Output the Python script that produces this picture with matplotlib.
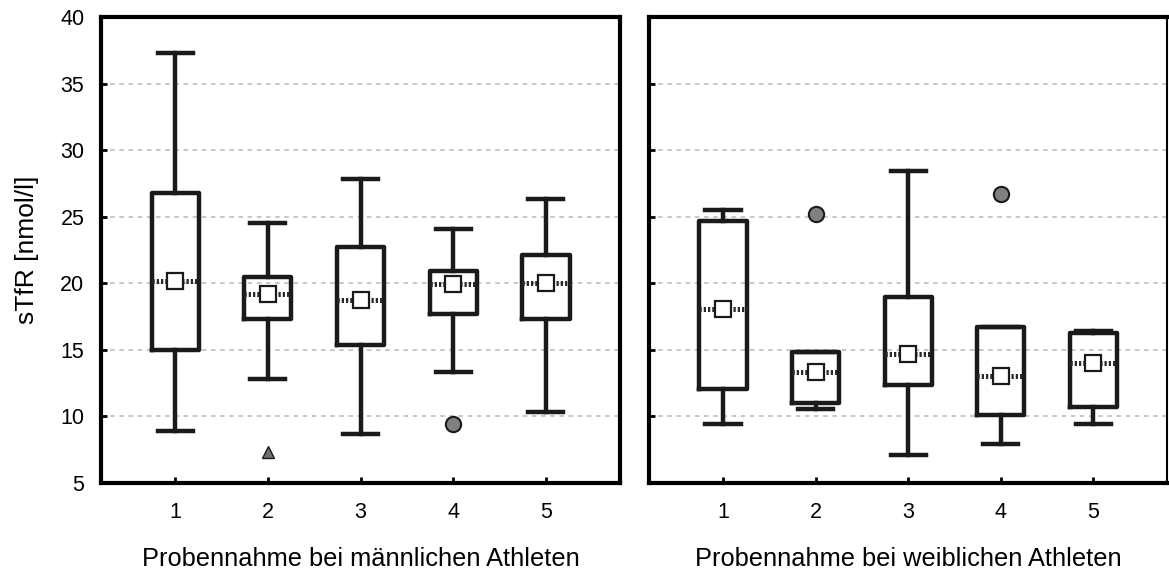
import matplotlib.pyplot as plt
import numpy as np

plt.rcParams['font.family'] = ['Liberation Sans', 'DejaVu Sans']

samples = [1, 2, 3, 4, 5]

# male athletes
m_whislo = [8.9, 12.8, 8.7, 13.3, 10.35]
m_q1 = [15.0, 17.3, 15.4, 17.7, 17.35]
m_med = [20.2, 19.2, 18.75, 19.95, 20.05]
m_q3 = [26.8, 20.45, 22.75, 20.95, 22.1]
m_whishi = [37.3, 24.5, 27.8, 24.05, 26.3]
m_out_x = [4]
m_out_y = [9.4]
m_ext_x = [2]
m_ext_y = [7.3]

# female athletes
f_whislo = [9.4, 10.55, 7.1, 7.9, 9.45]
f_q1 = [12.05, 11.0, 12.35, 10.1, 10.7]
f_med = [18.1, 13.3, 14.7, 13.05, 14.05]
f_q3 = [24.7, 14.85, 18.95, 16.75, 16.25]
f_whishi = [25.5, 14.85, 28.45, 16.75, 16.45]
f_out_x = [2, 4]
f_out_y = [25.2, 26.7]

xlabels = ["Probennahme bei männlichen Athleten", "Probennahme bei weiblichen Athleten"]
ylabel = "sTfR [nmol/l]"

fig = plt.figure(figsize=(11.69, 5.81), dpi=100)
ax1 = fig.add_axes([0.0864, 0.1687, 0.444, 0.802])
ax2 = fig.add_axes([0.5552, 0.1687, 0.4433, 0.802])


def draw(ax, lo, q1, med, q3, hi, xlabel):
    stats = []
    for i in range(len(samples)):
        stats.append(dict(whislo=lo[i], q1=q1[i], med=med[i], q3=q3[i],
                          whishi=hi[i], mean=med[i], fliers=[]))
    ax.bxp(stats, positions=samples, widths=0.51, showmeans=True,
           showfliers=False, patch_artist=False,
           boxprops=dict(color='#1a1a1a', lw=3.2),
           whiskerprops=dict(color='#1a1a1a', lw=3.2),
           capprops=dict(color='#1a1a1a', lw=3.2),
           capwidths=0.38,
           medianprops=dict(color='#2a2a2a', lw=3.6, linestyle=(0, (0.45, 0.4))),
           meanprops=dict(marker='s', markerfacecolor='white',
                          markeredgecolor='#1a1a1a', markersize=12,
                          markeredgewidth=1.6),
           zorder=3)
    ax.set_xlim(0.2, 5.8)
    ax.set_ylim(5, 40)
    ax.set_yticks(range(5, 41, 5))
    ax.set_xticks(samples)
    ax.set_xticklabels([str(s) for s in samples])
    ax.grid(axis='y', color='#b8b8b8', linestyle=(0, (3, 3)), lw=1.1, zorder=0)
    ax.tick_params(direction='in', length=4, width=2, labelsize=15.5)
    ax.tick_params(axis='x', pad=14)
    ax.tick_params(axis='y', pad=12)
    for s in ax.spines.values():
        s.set_linewidth(3)
    ax.set_xlabel(xlabel, fontsize=18.3, labelpad=17)


draw(ax1, m_whislo, m_q1, m_med, m_q3, m_whishi, xlabels[0])
draw(ax2, f_whislo, f_q1, f_med, f_q3, f_whishi, xlabels[1])

ax1.plot(m_out_x, m_out_y, 'o', ms=11, mfc='#808080', mec='#1a1a1a', mew=1.5, zorder=4)
ax1.plot(m_ext_x, m_ext_y, '^', ms=9, mfc='#707070', mec='#1a1a1a', mew=1.0, zorder=4)
ax2.plot(f_out_x, f_out_y, 'o', ms=11, mfc='#808080', mec='#1a1a1a', mew=1.5, zorder=4)

ax1.set_ylabel(ylabel, fontsize=19, labelpad=15)
ax2.set_yticklabels([])
ax2.spines['right'].set_linewidth(1.5)

fig.savefig('out.png', dpi=100)
